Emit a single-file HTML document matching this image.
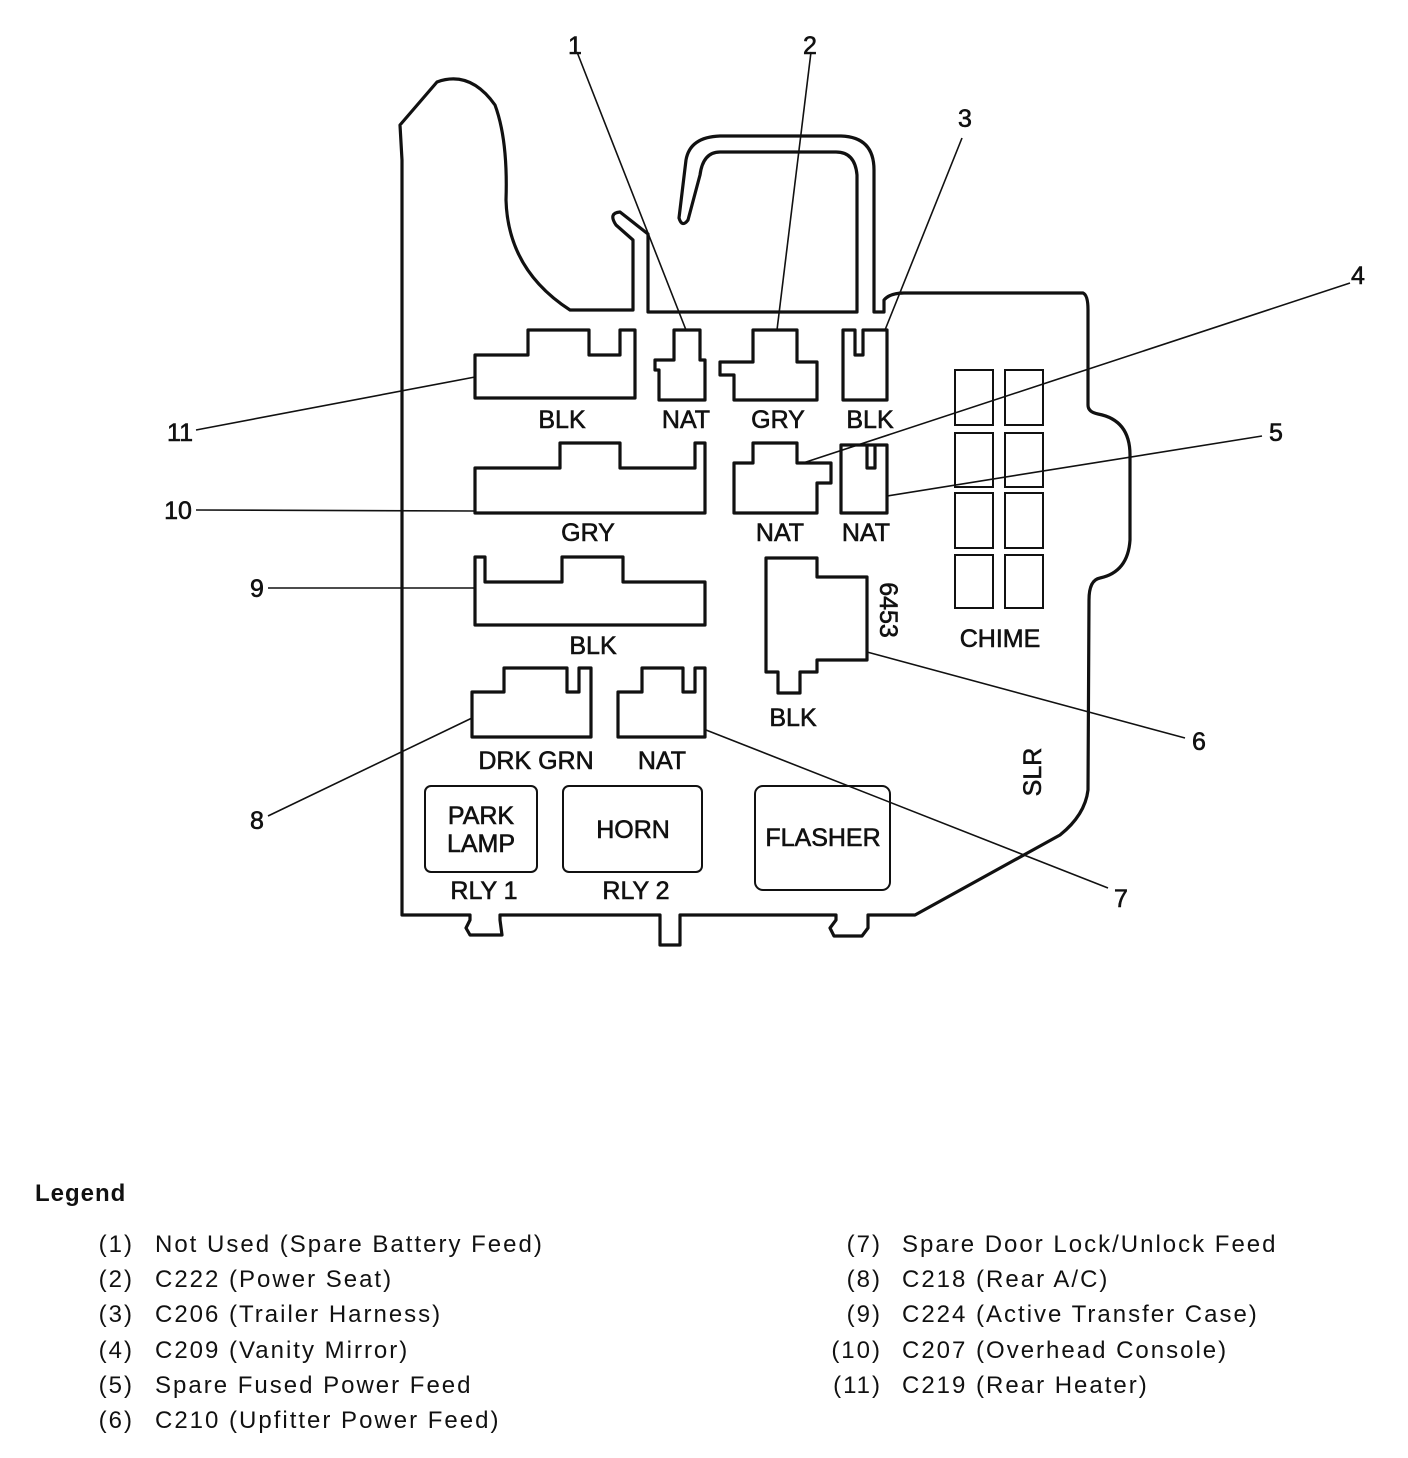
<!DOCTYPE html>
<html><head><meta charset="utf-8"><style>
html,body{margin:0;padding:0;background:#fff;}
svg{display:block;}
text{font-family:"Liberation Sans",Arial,sans-serif;fill:#111;}
</style></head><body>
<svg width="1408" height="1458" viewBox="0 0 1408 1458" xmlns="http://www.w3.org/2000/svg">
<g fill="none" stroke="#111" stroke-width="3.2" stroke-linejoin="round">
<path d="M402,160 L400,125 L437,82 Q470,70 495,105 Q508,140 506,200 Q508,270 570,310 L633,310 L633,240 L616,225 Q608,213 620,212 L648,234 L648,312 L857,312 L857,175 Q855,152 836,152 L720,152 Q703,152 700,175 L688,220 Q682,228 679,218 L686,160 Q690,137 720,136 L841,136 Q874,137 874,170 L874,312 L884,312 L884,300 Q890,293 904,293 L1083,293 Q1088,295 1088,310 L1088,405 Q1088,412 1098,414 Q1130,420 1130,455 L1130,540 Q1128,572 1100,578 Q1089,580 1089,600 L1088,790 Q1085,815 1060,835 L915,915 L868,915 L868,928 L862,936 L834,936 L830,928 L836,920 L836,915 L680,915 L680,945 L660,945 L660,915 L500,915 L500,920 L502,935 L470,935 L466,928 L470,920 L470,915 L402,915 Z"/>
<path d="M475,355 L528,355 L528,330 L589,330 L589,355 L620,355 L620,330 L635,330 L635,398 L475,398 Z"/>
<path d="M674,330 L700,330 L700,360 L705,360 L705,400 L659,400 L659,370 L655,370 L655,360 L674,360 Z"/>
<path d="M753,330 L797,330 L797,362 L817,362 L817,400 L734,400 L734,375 L720,375 L720,362 L753,362 Z"/>
<path d="M843,330 L855,330 L855,355 L863,355 L863,330 L887,330 L887,400 L843,400 Z"/>
<path d="M475,468 L560,468 L560,443 L620,443 L620,468 L695,468 L695,443 L705,443 L705,513 L475,513 Z"/>
<path d="M753,443 L797,443 L797,463 L831,463 L831,483 L817,483 L817,513 L734,513 L734,463 L753,463 Z"/>
<path d="M841,445 L887,445 L887,513 L841,513 Z M867,445 L867,468 L875,468 L875,445"/>
<path d="M475,557 L485,557 L485,582 L562,582 L562,557 L623,557 L623,582 L705,582 L705,625 L475,625 Z"/>
<path d="M766,558 L817,558 L817,577 L867,577 L867,660 L817,660 L817,672 L800,672 L800,693 L778,693 L778,672 L766,672 Z"/>
<path d="M472,692 L504,692 L504,668 L567,668 L567,692 L579,692 L579,668 L591,668 L591,737 L472,737 Z"/>
<path d="M618,692 L642,692 L642,668 L683,668 L683,692 L695,692 L695,668 L705,668 L705,737 L618,737 Z"/>
</g>
<g fill="none" stroke="#111" stroke-width="2">
<rect x="425" y="786" width="112" height="86" rx="6"/>
<rect x="563" y="786" width="139" height="86" rx="6"/>
<rect x="755" y="786" width="135" height="104" rx="8"/>
<rect x="955" y="370" width="38" height="55"/><rect x="1005" y="370" width="38" height="55"/>
<rect x="955" y="433" width="38" height="54"/><rect x="1005" y="433" width="38" height="54"/>
<rect x="955" y="493" width="38" height="55"/><rect x="1005" y="493" width="38" height="55"/>
<rect x="955" y="555" width="38" height="53"/><rect x="1005" y="555" width="38" height="53"/>
</g>
<g stroke="#111" stroke-width="1.6">
<line x1="577" y1="52" x2="686" y2="330"/>
<line x1="811" y1="52" x2="777" y2="330"/>
<line x1="962" y1="138" x2="885" y2="330"/>
<line x1="1350" y1="283" x2="803" y2="463"/>
<line x1="1262" y1="436" x2="887" y2="496"/>
<line x1="867" y1="652" x2="1185" y2="738"/>
<line x1="706" y1="730" x2="1108" y2="888"/>
<line x1="472" y1="718" x2="268" y2="816"/>
<line x1="268" y1="588" x2="475" y2="588"/>
<line x1="196" y1="510" x2="475" y2="511"/>
<line x1="196" y1="430" x2="475" y2="377"/>
</g>
<g font-size="25" text-anchor="middle" stroke="#111" stroke-width="0.6">
<text x="575" y="54">1</text><text x="810" y="54">2</text><text x="965" y="127">3</text>
<text x="1358" y="284">4</text><text x="1276" y="441">5</text><text x="1199" y="750">6</text>
<text x="1121" y="907">7</text><text x="257" y="829">8</text><text x="257" y="597">9</text>
<text x="178" y="519">10</text><text x="180" y="441">11</text>
<text x="562" y="428">BLK</text><text x="686" y="428">NAT</text><text x="778" y="428">GRY</text><text x="870" y="428">BLK</text>
<text x="588" y="541">GRY</text><text x="780" y="541">NAT</text><text x="866" y="541">NAT</text>
<text x="593" y="654">BLK</text><text x="793" y="726">BLK</text>
<text x="536" y="769">DRK GRN</text><text x="662" y="769">NAT</text>
<text x="1000" y="647">CHIME</text>
<text x="481" y="824">PARK</text><text x="481" y="852">LAMP</text>
<text x="633" y="838">HORN</text><text x="823" y="846">FLASHER</text>
<text x="484" y="899">RLY 1</text><text x="636" y="899">RLY 2</text>
<text transform="translate(880,610) rotate(90)">6453</text>
<text transform="translate(1041,772) rotate(-90)">SLR</text>
</g>
<text x="35" y="1201" font-size="24" font-weight="bold" letter-spacing="1">Legend</text>
<g font-size="24" letter-spacing="2">
<g text-anchor="end">
<text x="134" y="1252">(1)</text><text x="134" y="1287">(2)</text><text x="134" y="1322">(3)</text>
<text x="134" y="1358">(4)</text><text x="134" y="1393">(5)</text><text x="134" y="1428">(6)</text>
<text x="882" y="1252">(7)</text><text x="882" y="1287">(8)</text><text x="882" y="1322">(9)</text>
<text x="882" y="1358">(10)</text><text x="882" y="1393">(11)</text>
</g>
<text x="155" y="1252">Not Used (Spare Battery Feed)</text>
<text x="155" y="1287">C222 (Power Seat)</text>
<text x="155" y="1322">C206 (Trailer Harness)</text>
<text x="155" y="1358">C209 (Vanity Mirror)</text>
<text x="155" y="1393">Spare Fused Power Feed</text>
<text x="155" y="1428">C210 (Upfitter Power Feed)</text>
<text x="902" y="1252">Spare Door Lock/Unlock Feed</text>
<text x="902" y="1287">C218 (Rear A/C)</text>
<text x="902" y="1322">C224 (Active Transfer Case)</text>
<text x="902" y="1358">C207 (Overhead Console)</text>
<text x="902" y="1393">C219 (Rear Heater)</text>
</g>
</svg>
</body></html>
